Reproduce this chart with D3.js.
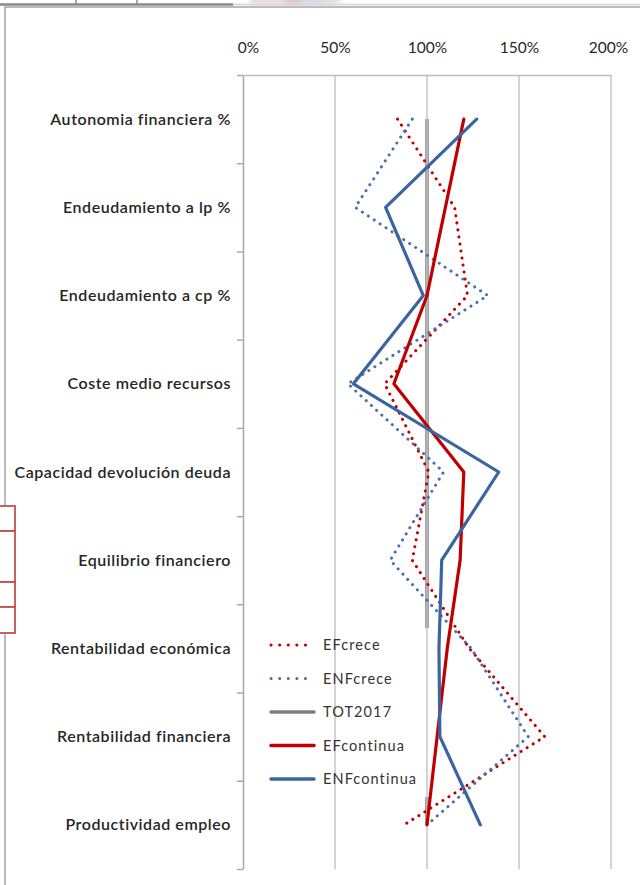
<!DOCTYPE html>
<html>
<head>
<meta charset="utf-8">
<script src="https://cdn.jsdelivr.net/npm/d3@7"></script>
<style>
  html, body { margin: 0; padding: 0; background: #fff; }
  svg { display: block; }
  text { font-family: Lato, "Open Sans", "Liberation Sans", sans-serif; }
</style>
</head>
<body>
<script>
// Indicator names, top to bottom
const categories = [
  "Autonomia financiera %",
  "Endeudamiento a lp %",
  "Endeudamiento a cp %",
  "Coste medio recursos",
  "Capacidad devolución deuda",
  "Equilibrio financiero",
  "Rentabilidad económica",
  "Rentabilidad financiera",
  "Productividad empleo"
];

// Ratios relative to the 2017 total (1 = 100%)
const efCrece      = [0.84, 1.15, 1.22, 0.77, 1.01, 0.92, 1.23, 1.64, 0.875];
const enfCrece     = [0.92, 0.61, 1.33, 0.57, 1.09, 0.80, 1.24, 1.55, 1.00];
const tot2017      = [1.00, 1.00, 1.00, 1.00, 1.00, 1.00, 1.00, 1.00, 1.00];
const efContinua   = [1.20, 1.10, 1.00, 0.82, 1.20, 1.18, 1.11, 1.055, 1.00];
const enfContinua  = [1.27, 0.775, 0.98, 0.60, 1.39, 1.08, 1.065, 1.07, 1.29];

const seriesNames  = ["EFcrece", "ENFcrece", "TOT2017", "EFcontinua", "ENFcontinua"];
const xTickValues  = [0, 0.5, 1, 1.5, 2];

const W = 640, H = 885;
const svg = d3.select("body").append("svg").attr("width", W).attr("height", H);
svg.append("rect").attr("width", W).attr("height", H).attr("fill", "#fff");

// ---- surrounding sheet furniture ----
const deco = svg.append("g");
deco.append("line").attr("x1", 0).attr("x2", 233).attr("y1", 4.5).attr("y2", 4.5)
  .attr("stroke", "#8a8a8a").attr("stroke-width", 2.5);
deco.append("line").attr("x1", 233).attr("x2", 640).attr("y1", 4.5).attr("y2", 4.5)
  .attr("stroke", "#d4d4d4").attr("stroke-width", 1.5);
[76, 137].forEach(x => deco.append("line").attr("x1", x).attr("x2", x).attr("y1", 0).attr("y2", 5)
  .attr("stroke", "#8a8a8a").attr("stroke-width", 1.5));
const defs = svg.append("defs");
defs.append("filter").attr("id", "soft").append("feGaussianBlur").attr("stdDeviation", 3);
const blob = deco.append("g").attr("filter", "url(#soft)");
blob.append("rect").attr("x", 250).attr("y", -4).attr("width", 90).attr("height", 9).attr("fill", "#e6d6de");
blob.append("rect").attr("x", 285).attr("y", -4).attr("width", 25).attr("height", 8).attr("fill", "#d9b6c2");
blob.append("rect").attr("x", 300).attr("y", -4).attr("width", 25).attr("height", 8).attr("fill", "#c9d4e8");
// chart frame
deco.append("path").attr("d", "M5,890 V7 H645").attr("fill", "none")
  .attr("stroke", "#a5a5a5").attr("stroke-width", 1.5);
// cell outlines on the left margin
[[506, 531], [531, 582], [582, 607], [607, 633]].forEach(([a, b]) =>
  deco.append("rect").attr("x", -3).attr("y", a).attr("width", 18).attr("height", b - a)
    .attr("fill", "#fff").attr("stroke", "#c0504d").attr("stroke-width", 1.8));

// ---- scales ----
const plotTop = 75, plotBottom = 869;
const x = d3.scaleLinear().domain([0, 2]).range([243, 611]);
const y = d3.scaleBand().domain(categories).range([plotTop, plotBottom]);
const yc = c => y(c) + y.bandwidth() / 2;

const textColor = "#262626";
const red = "#c00000", blue = "#3b64a0", blueDot = "#4a6fae", gray = "#808080";

const lineGen = vals => d3.line()
  .x(d => x(d))
  .y((d, i) => yc(categories[i]))(vals);

// total line sits under the legend backdrop
svg.append("path").attr("d", lineGen(tot2017)).attr("fill", "none")
  .attr("stroke", gray).attr("stroke-width", 3.5);

// legend backdrop
const legX = 255, legY = 628;
svg.append("rect").attr("x", legX).attr("y", legY).attr("width", 176).attr("height", 169)
  .attr("fill", "#fff");

// ---- gridlines ----
svg.append("g").selectAll("line").data(xTickValues.slice(1)).join("line")
  .attr("x1", d => x(d)).attr("x2", d => x(d))
  .attr("y1", plotTop).attr("y2", plotBottom)
  .attr("stroke", "#c6c6c6").attr("stroke-width", 1.5);

// ---- top axis ----
const xAxis = svg.append("g").attr("transform", `translate(0,${plotTop})`)
  .call(d3.axisTop(x).tickValues(xTickValues).tickFormat(d3.format(".0%"))
    .tickSize(0).tickPadding(22));
xAxis.select(".domain").attr("stroke", "#bdbdbd").attr("stroke-width", 1.5);
xAxis.selectAll("text").attr("font-size", 15.5).attr("fill", textColor)
  .attr("font-family", "Lato, sans-serif");
xAxis.selectAll(".tick text").attr("dx", (d, i) => i === 0 ? 5 : (i === xTickValues.length - 1 ? -3 : 0));

// ---- left axis with ticks on band edges ----
const yEdge = d3.scaleLinear().domain([0, categories.length]).range([plotTop, plotBottom]);
const yAxis = svg.append("g").attr("transform", `translate(${x(0)},0)`)
  .call(d3.axisLeft(yEdge).tickValues(d3.range(categories.length + 1))
    .tickFormat("").tickSize(6).tickSizeOuter(0));
yAxis.selectAll("line, path").attr("stroke", "#a8a8a8").attr("stroke-width", 1.5);

svg.append("g").selectAll("text").data(categories).join("text")
  .attr("x", 231).attr("y", d => yc(d)).attr("dy", "0.35em")
  .attr("text-anchor", "end").attr("font-size", 16).attr("font-weight", 600)
  .attr("letter-spacing", 0.55)
  .attr("fill", textColor).text(d => d);

// ---- series ----
const series = [
  { name: seriesNames[0], vals: efCrece, color: red, dash: true },
  { name: seriesNames[1], vals: enfCrece, color: blueDot, dash: true },
  { name: seriesNames[2], vals: tot2017, color: gray, dash: false, under: true },
  { name: seriesNames[3], vals: efContinua, color: red, dash: false },
  { name: seriesNames[4], vals: enfContinua, color: blue, dash: false }
];

series.filter(s => !s.under).forEach(s => {
  svg.append("path").attr("d", lineGen(s.vals)).attr("fill", "none")
    .attr("stroke", s.color)
    .attr("stroke-width", s.dash ? 3 : 3.2)
    .attr("stroke-linejoin", "round")
    .attr("stroke-linecap", "round")
    .attr("stroke-dasharray", s.dash ? "0.1 7" : null);
});

// ---- legend ----
const leg = svg.append("g");
series.forEach((s, i) => {
  const ly = 645 + i * 33.5;
  leg.append("line").attr("x1", 271).attr("x2", 314).attr("y1", ly).attr("y2", ly)
    .attr("stroke", s.color).attr("stroke-width", s.dash ? 3 : 3.5)
    .attr("stroke-linecap", "round")
    .attr("stroke-dasharray", s.dash ? "0.1 8.5" : null);
  leg.append("text").attr("x", 323).attr("y", ly).attr("dy", "0.35em")
    .attr("font-size", 14.5).attr("letter-spacing", 1.1).attr("fill", "#333")
    .text(s.name);
});
</script>
</body>
</html>
